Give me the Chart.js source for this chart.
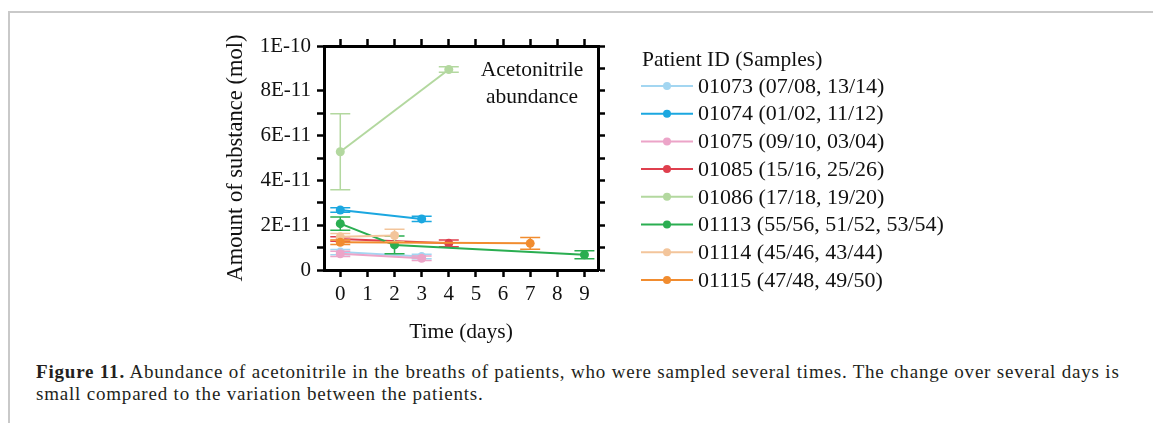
<!DOCTYPE html>
<html>
<head>
<meta charset="utf-8">
<script src="https://cdn.jsdelivr.net/npm/chart.js@4"></script>
<style>
  html, body { margin: 0; padding: 0; background: #fff; }
  #wrap { position: relative; width: 1153px; height: 423px; overflow: hidden; }
  #frame { position: absolute; left: 8px; top: 11px; right: -4px; bottom: -4px;
           border-top: 2px solid #c9c9c9; border-left: 2px solid #c9c9c9; }
  #plot { position: absolute; left: 0; top: 0; }
  .cap { position: absolute; left: 36px; font-family: "Liberation Serif", serif;
         font-size: 19px; letter-spacing: 0.8px; color: #231f20; white-space: nowrap; line-height: 21px; }
</style>
</head>
<body>
<div id="wrap">
  <div id="frame"></div>
  <canvas id="plot" width="1153" height="360"></canvas>
  <div class="cap" style="top:361px"><b>Figure 11.</b> Abundance of acetonitrile in the breaths of patients, who were sampled several times. The change over several days is</div>
  <div class="cap" style="top:383px">small compared to the variation between the patients.</div>
</div>
<script>
//------------------------------------------------------------------------------
// data (amount in mol, time in days)
//------------------------------------------------------------------------------
var patients = ["01073 (07/08, 13/14)", "01074 (01/02, 11/12)", "01075 (09/10, 03/04)",
                "01085 (15/16, 25/26)", "01086 (17/18, 19/20)", "01113 (55/56, 51/52, 53/54)",
                "01114 (45/46, 43/44)", "01115 (47/48, 49/50)"];
var days = [[0, 3], [0, 3], [0, 3], [0, 4], [0, 4], [0, 2, 9], [0, 2], [0, 7]];
var amount = [
  [0.80e-11, 0.60e-11],
  [2.68e-11, 2.28e-11],
  [0.72e-11, 0.52e-11],
  [1.38e-11, 1.19e-11],
  [5.28e-11, 8.95e-11],
  [2.07e-11, 1.12e-11, 0.68e-11],
  [1.48e-11, 1.54e-11],
  [1.24e-11, 1.19e-11]
];
var spread = [
  [0.12e-11, 0.10e-11],
  [0.10e-11, 0.12e-11],
  [0.12e-11, 0.10e-11],
  [0.10e-11, 0.15e-11],
  [1.70e-11, 0.12e-11],
  [0.30e-11, 0.40e-11, 0.18e-11],
  [0.15e-11, 0.28e-11],
  [0.10e-11, 0.26e-11]
];
var dayTicks = [0, 1, 2, 3, 4, 5, 6, 7, 8, 9];

var colors = ["#a3d6f1", "#1ba7e0", "#eca4c8", "#df3f4e", "#b3d89f", "#2aae51", "#f3c59b", "#f18c2f"];
var serif = "Liberation Serif";
var ink = "#111";

//------------------------------------------------------------------------------
var errorBars = {
  id: 'errorBars',
  afterDatasetDraw: function(chart, args) {
    var i = args.index;
    var meta = chart.getDatasetMeta(i);
    var ys = chart.scales.y;
    var c = chart.ctx;
    c.save();
    c.strokeStyle = colors[i];
    c.lineWidth = 1.5;
    meta.data.forEach(function(pt, j) {
      var hi = ys.getPixelForValue(amount[i][j] + spread[i][j]);
      var lo = ys.getPixelForValue(amount[i][j] - spread[i][j]);
      c.beginPath();
      c.moveTo(pt.x, hi); c.lineTo(pt.x, lo);
      c.moveTo(pt.x - 10, hi); c.lineTo(pt.x + 10, hi);
      c.moveTo(pt.x - 10, lo); c.lineTo(pt.x + 10, lo);
      c.stroke();
    });
    c.restore();
  }
};

var extras = {
  id: 'extras',
  afterDraw: function(chart) {
    var c = chart.ctx;
    var a = chart.chartArea;
    c.save();
    c.fillStyle = ink;
    c.font = "21.5px " + serif;
    c.textAlign = "center";
    c.textBaseline = "middle";
    c.fillText("Acetonitrile", a.right - 66, 70);
    c.fillText("abundance", a.right - 66, 97);

    // legend
    c.textAlign = "left";
    c.fillText("Patient ID (Samples)", 642, 60);
    c.font = "22px " + serif;
    patients.forEach(function(p, i) {
      var y = 86 + i * 27.7;
      c.strokeStyle = colors[i];
      c.lineWidth = 2;
      c.beginPath(); c.moveTo(641, y); c.lineTo(693, y); c.stroke();
      c.fillStyle = colors[i];
      c.beginPath(); c.arc(667, y, 4, 0, Math.PI * 2); c.fill();
      c.fillStyle = ink;
      c.fillText(p, 698, y + 1);
    });
    c.restore();
  }
};

//------------------------------------------------------------------------------
function axisGrid() {
  return { drawOnChartArea: false, drawTicks: true, tickLength: 7, tickWidth: 2.5, tickColor: "#000" };
}
var axisBorder = { display: true, width: 3, color: "#000" };

var ctx = document.getElementById("plot");
var chart = new Chart(ctx, {
  type: 'line',
  data: {
    datasets: patients.map(function(p, i) {
      return {
        label: p,
        data: days[i].map(function(d, j) { return { x: d, y: amount[i][j] }; }),
        borderColor: colors[i],
        backgroundColor: colors[i],
        borderWidth: 2,
        pointRadius: 4.5,
        pointBorderWidth: 0,
        order: -i
      };
    })
  },
  options: {
    responsive: false,
    animation: false,
    devicePixelRatio: 1,
    layout: { padding: { left: 219, right: 545, top: 36, bottom: 11 } },
    plugins: { legend: { display: false }, tooltip: { enabled: false } },
    scales: {
      x: {
        type: 'linear', position: 'bottom', min: -0.6, max: 9.5,
        grid: axisGrid(), border: axisBorder,
        afterBuildTicks: function(s) { s.ticks = dayTicks.map(function(v) { return { value: v }; }); },
        afterFit: function(s) { s.height = 79; },
        ticks: { autoSkip: false, maxRotation: 0, padding: 5, color: ink, font: { family: serif, size: 21 } },
        title: { display: true, text: "Time (days)", color: ink, font: { family: serif, size: 21.5 } }
      },
      x2: {
        type: 'linear', position: 'top', min: -0.6, max: 9.5,
        grid: axisGrid(), border: axisBorder,
        afterBuildTicks: function(s) { s.ticks = dayTicks.map(function(v) { return { value: v }; }); },
        afterFit: function(s) { s.height = 10; },
        ticks: { autoSkip: false, callback: function() { return ""; } }
      },
      y: {
        type: 'linear', position: 'left', min: 0, max: 1e-10,
        grid: axisGrid(), border: axisBorder,
        afterFit: function(s) { s.width = 105; },
        ticks: {
          stepSize: 1e-11, autoSkip: false, padding: 6, color: ink, font: { family: serif, size: 21 },
          callback: function(v) {
            var k = Math.round(v / 1e-11);
            if (k % 2) return "";
            if (k === 0) return "0";
            return (k * 1e-11).toExponential(0).toUpperCase();
          }
        },
        title: { display: true, text: "Amount of substance (mol)", color: ink, font: { family: serif, size: 22.5 } }
      },
      y2: {
        type: 'linear', position: 'right', min: 0, max: 1e-10,
        grid: axisGrid(), border: axisBorder,
        afterFit: function(s) { s.width = 10; },
        ticks: { stepSize: 1e-11, autoSkip: false, callback: function() { return ""; } }
      }
    }
  },
  plugins: [errorBars, extras]
});
</script>
</body>
</html>
